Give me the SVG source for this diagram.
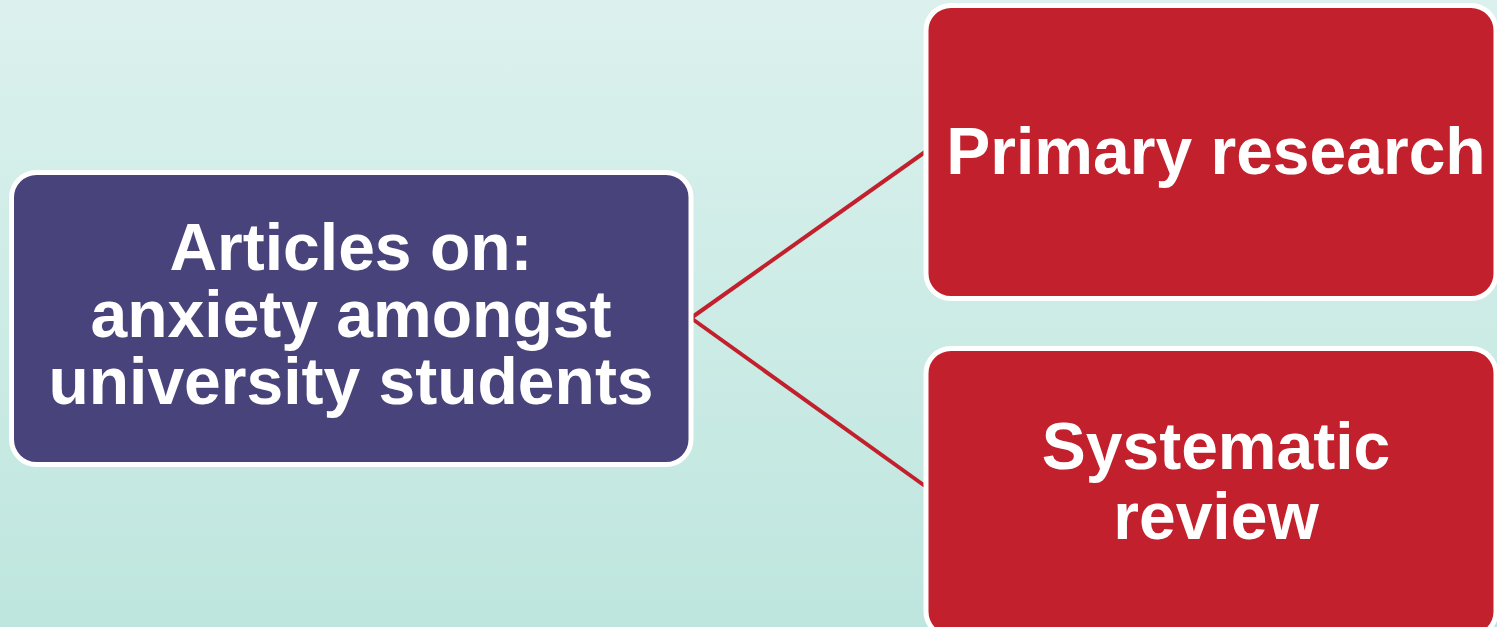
<svg xmlns="http://www.w3.org/2000/svg" width="1497" height="627" viewBox="0 0 1497 627">
<defs>
<linearGradient id="bg" x1="0" y1="0" x2="0" y2="1">
<stop offset="0" stop-color="#dcf1ee"/>
<stop offset="1" stop-color="#bee6de"/>
</linearGradient>
<style>
.box{stroke:#ffffff;stroke-width:5}
.purple{fill:#48447b}
.red{fill:#c1202c}
.t{font-family:"Liberation Sans",Arial,sans-serif;font-weight:bold;font-size:66px;fill:#ffffff;text-anchor:middle}
.conn{stroke:#c1202c;stroke-width:4;fill:none}
</style>
</defs>
<rect x="0" y="0" width="1497" height="627" fill="url(#bg)"/>
<g id="connectors">
<line class="conn" x1="691" y1="318" x2="925" y2="152"/>
<line class="conn" x1="691" y1="318" x2="925" y2="486"/>
</g>
<g id="node-articles">
<rect class="box purple" x="11.5" y="172.5" width="679.5" height="292" rx="25" ry="25"/>
<text class="t" x="351" y="270">Articles on:</text>
<text class="t" x="351" y="337">anxiety amongst</text>
<text class="t" x="351" y="404">university students</text>
</g>
<g id="node-primary">
<rect class="box red" x="926" y="5.5" width="570" height="293" rx="25" ry="25"/>
<text class="t" x="1216" y="174">Primary research</text>
</g>
<g id="node-systematic">
<rect class="box red" x="926" y="348.5" width="570" height="288" rx="25" ry="25"/>
<text class="t" x="1216" y="469">Systematic</text>
<text class="t" x="1216" y="539">review</text>
</g>
</svg>
